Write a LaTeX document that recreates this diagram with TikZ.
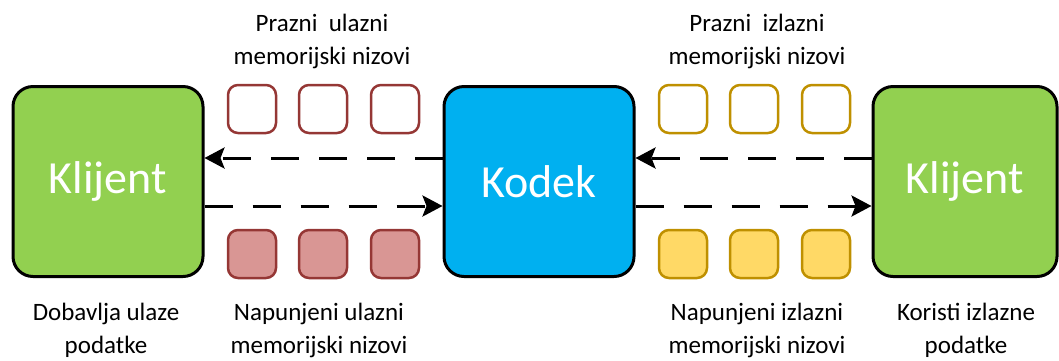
\documentclass[tikz,border=0pt]{standalone}
\usepackage{fontspec}
\setmainfont{Carlito}
\usetikzlibrary{arrows.meta}
\definecolor{cgreen}{HTML}{92D050}
\definecolor{cblue}{HTML}{00B0F0}
\definecolor{redline}{HTML}{953735}
\definecolor{redfill}{HTML}{D99694}
\definecolor{goldline}{HTML}{BF9000}
\definecolor{goldfill}{HTML}{FFD966}
\tikzset{
  bigbox/.style={draw=black, line width=3pt, rounded corners=20pt, minimum width=190pt, minimum height=190pt, inner sep=0pt, text=white, font=\fontsize{46}{50}\selectfont},
  buf/.style={line width=2.5pt, rounded corners=10pt, minimum width=48pt, minimum height=48pt, inner sep=0pt},
  redempty/.style={buf, draw=redline, fill=white},
  redfull/.style={buf, draw=redline, fill=redfill},
  goldempty/.style={buf, draw=goldline, fill=white},
  goldfull/.style={buf, draw=goldline, fill=goldfill},
  lbl/.style={align=center, inner sep=0pt, font=\fontsize{25}{33}\selectfont},
  flow/.style={line width=3pt, dash pattern=on 28pt off 20pt, -{Stealth[length=20pt,width=21pt,inset=4pt]}}
}
\begin{document}
\begin{tikzpicture}[x=1pt,y=-1pt]
\useasboundingbox (0,0) rectangle (1059,360);
\node[bigbox, fill=cgreen] (cl1) at (108,181.5) {Klijent};
\node[bigbox, fill=cblue] (kod) at (539,181.5) {Kodek};
\node[bigbox, fill=cgreen, minimum width=184pt] (cl2) at (965,181.5) {Klijent};
% buffers
\node[redempty] (ie1) at (252,109) {};
\node[redempty] (ie2) at (323,109) {};
\node[redempty] (ie3) at (395,109) {};
\node[redfull] (if1) at (252,254) {};
\node[redfull] (if2) at (323,254) {};
\node[redfull] (if3) at (395,254) {};
\node[goldempty] (oe1) at (683,109) {};
\node[goldempty] (oe2) at (754,109) {};
\node[goldempty] (oe3) at (826,109) {};
\node[goldfull] (of1) at (683,254) {};
\node[goldfull] (of2) at (754,254) {};
\node[goldfull] (of3) at (826,254) {};
% arrows
\draw[flow] (kod.west |- 0,158) -- (cl1.east |- 0,158);
\draw[flow] (cl1.east |- 0,206) -- (kod.west |- 0,206);
\draw[flow] (cl2.west |- 0,158) -- (kod.east |- 0,158);
\draw[flow] (kod.east |- 0,206) -- (cl2.west |- 0,206);
% labels
\node[lbl, anchor=base] (t1) at (322,64) {Prazni\ \ ulazni\\memorijski nizovi};
\node[lbl, anchor=base] (t2) at (757,64) {Prazni\ \ izlazni\\memorijski nizovi};
\node[lbl, anchor=base] (b1) at (106,353) {Dobavlja ulaze\\podatke};
\node[lbl, anchor=base] (b2) at (319,353) {Napunjeni ulazni\\memorijski nizovi};
\node[lbl, anchor=base] (b3) at (757,353) {Napunjeni izlazni\\memorijski nizovi};
\node[lbl, anchor=base] (b4) at (966,353) {Koristi izlazne\\podatke};
\end{tikzpicture}
\end{document}
